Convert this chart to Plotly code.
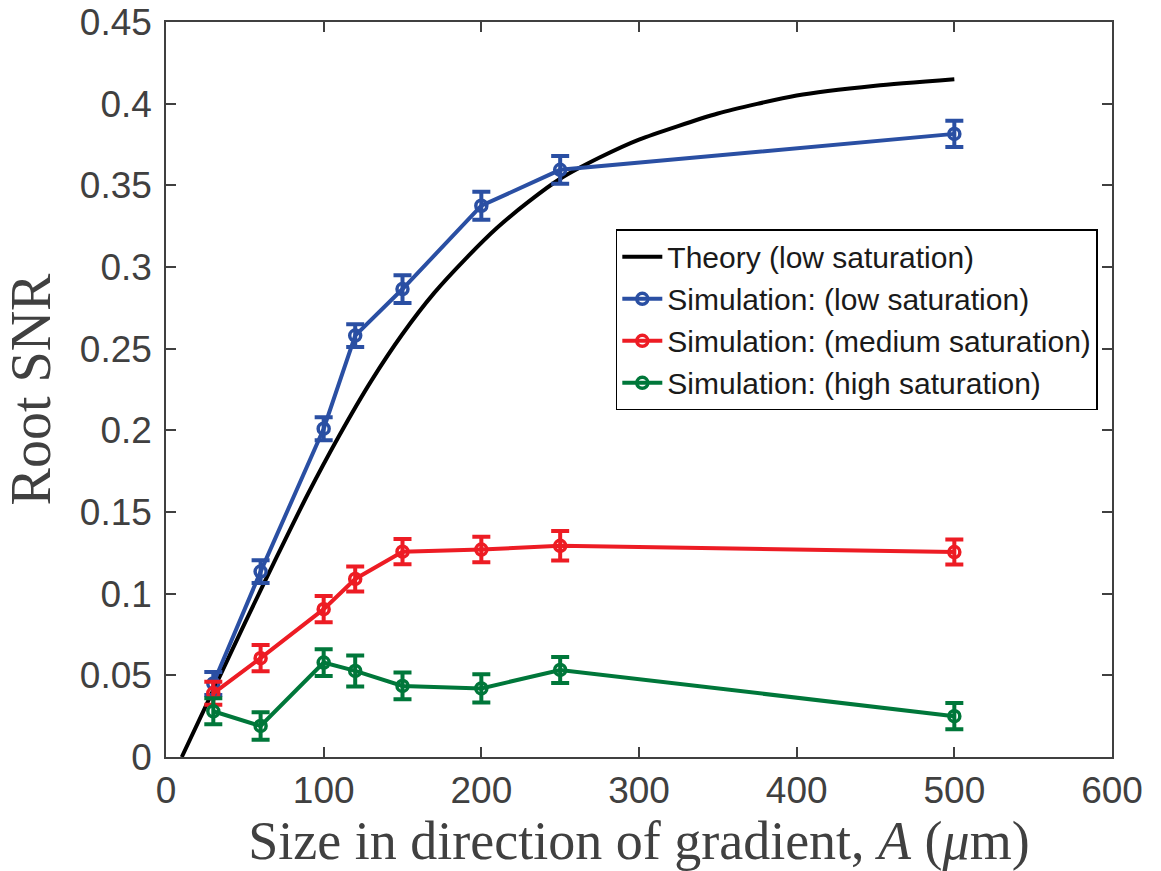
import plotly.graph_objects as go

# Simulation sizes (µm)
sizes = [30, 60, 100, 120, 150, 200, 250, 500]

low_sat = [0.045, 0.1135, 0.201, 0.258, 0.2865, 0.3375, 0.3595, 0.3815]
low_err = [0.007, 0.007, 0.007, 0.007, 0.0085, 0.0085, 0.0085, 0.008]

med_sat = [0.039, 0.0605, 0.0905, 0.109, 0.1257, 0.127, 0.1293, 0.1255]
med_err = [0.007, 0.008, 0.008, 0.0077, 0.0077, 0.0078, 0.009, 0.0077]

high_sat = [0.028, 0.019, 0.0578, 0.0527, 0.0435, 0.042, 0.0533, 0.025]
high_err = [0.008, 0.0084, 0.0082, 0.0095, 0.0082, 0.0087, 0.008, 0.008]

# Theory curve
theory_x = [10, 30, 50, 70, 90, 110, 130, 150, 170, 190, 210, 230, 250, 275, 300, 350, 400, 450, 500]
theory_y = [0.000, 0.041, 0.082, 0.122, 0.161, 0.197, 0.230, 0.259, 0.284, 0.305, 0.324, 0.340,
            0.354, 0.367, 0.378, 0.394, 0.405, 0.411, 0.415]

x_ticks = [0, 100, 200, 300, 400, 500, 600]
y_ticks = [0, 0.05, 0.1, 0.15, 0.2, 0.25, 0.3, 0.35, 0.4, 0.45]
y_tick_text = ["0", "0.05", "0.1", "0.15", "0.2", "0.25", "0.3", "0.35", "0.4", "0.45"]

BLUE = "#2a4fa3"
RED = "#ed1c24"
GREEN = "#00773a"
GRAY = "#404040"

fig = go.Figure()

fig.add_trace(go.Scatter(
    x=theory_x, y=theory_y, mode="lines", name="Theory (low saturation)",
    line=dict(color="black", width=4, shape="spline", smoothing=0.6),
))

for name, ys, errs, col in [
    ("Simulation: (low saturation)", low_sat, low_err, BLUE),
    ("Simulation: (medium saturation)", med_sat, med_err, RED),
    ("Simulation: (high saturation)", high_sat, high_err, GREEN),
]:
    fig.add_trace(go.Scatter(
        x=sizes, y=ys, mode="lines+markers", name=name,
        line=dict(color=col, width=4),
        marker=dict(symbol="circle-open", size=11, color=col, line=dict(width=3.5, color=col)),
        error_y=dict(type="data", array=errs, visible=True, color=col, thickness=4, width=9),
    ))

axis_common = dict(
    showline=True, linecolor=GRAY, linewidth=1.5, mirror="ticks",
    ticks="inside", ticklen=10, tickwidth=1.5, tickcolor=GRAY,
    showgrid=False, zeroline=False, automargin=False,
)

fig.update_layout(
    width=1161, height=871,
    margin=dict(l=166, r=49, t=22, b=114),
    paper_bgcolor="white", plot_bgcolor="white",
    showlegend=True,
    legend=dict(
        x=0.985, y=0.718, xanchor="right", yanchor="top",
        bgcolor="white", bordercolor="black", borderwidth=1.5,
        font=dict(family="Liberation Sans, Arial, sans-serif", size=30, color="#1a1a1a"),
        tracegroupgap=0, itemwidth=40,
    ),
    xaxis=dict(
        range=[0, 600], tickvals=x_ticks,
        tickfont=dict(family="Liberation Sans, Arial, sans-serif", size=37, color=GRAY),
        title=dict(text="Size in direction of gradient, <i>A</i> (<i>μ</i>m)",
                   font=dict(family="Liberation Serif, Times New Roman, serif", size=54, color=GRAY),
                   standoff=0),
        **axis_common,
    ),
    yaxis=dict(
        range=[0, 0.45], tickvals=y_ticks, ticktext=y_tick_text,
        tickfont=dict(family="Liberation Sans, Arial, sans-serif", size=37, color=GRAY),
        ticklabelstandoff=5,
        title=dict(text="Root SNR",
                   font=dict(family="Liberation Serif, Times New Roman, serif", size=56, color=GRAY),
                   standoff=18),
        **axis_common,
    ),
)

fig.write_html("out.html")
